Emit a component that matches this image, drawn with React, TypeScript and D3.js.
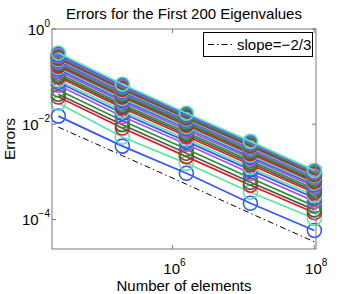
import React, { useEffect, useRef } from 'react';
import * as d3 from 'd3';

// number of elements for each refinement level
const nElements = [24576, 196608, 1572864, 12582912, 100663296];

// colour cycle used for the eigenvalue curves
const seriesColors = ['#3358ff', '#58e6a6', '#e61a1e', '#555555', '#229a22', '#a450f0'];

// errors of the eigenvalues (bottom curve first), one row per curve
const eigenErrors = [
  [1.48e-2, 3.47e-3, 9.33e-4, 2.19e-4, 5.89e-5],
  [2.75e-2, 5.37e-3, 1.51e-3, 3.72e-4, 1.05e-4],
  [3.72e-2, 8.32e-3, 2.09e-3, 5.25e-4, 1.38e-4],
  [4.27e-2, 9.77e-3, 2.46e-3, 6.03e-4, 1.59e-4],
  [5.25e-2, 1.18e-2, 3.02e-3, 7.41e-4, 1.91e-4],
  [6.61e-2, 1.45e-2, 3.80e-3, 9.33e-4, 2.40e-4],
  [7.59e-2, 1.70e-2, 4.37e-3, 1.10e-3, 2.82e-4],
  [8.51e-2, 1.91e-2, 4.90e-3, 1.23e-3, 3.16e-4],
  [9.77e-2, 2.19e-2, 5.62e-3, 1.41e-3, 3.63e-4],
  [1.07e-1, 2.40e-2, 6.17e-3, 1.55e-3, 3.98e-4],
  [1.18e-1, 2.63e-2, 6.76e-3, 1.70e-3, 4.37e-4],
  [1.32e-1, 2.95e-2, 7.59e-3, 1.91e-3, 4.90e-4],
  [1.45e-1, 3.24e-2, 8.32e-3, 2.09e-3, 5.37e-4],
  [1.55e-1, 3.47e-2, 8.91e-3, 2.24e-3, 5.75e-4],
  [1.66e-1, 3.72e-2, 9.55e-3, 2.40e-3, 6.17e-4],
  [1.78e-1, 3.98e-2, 1.02e-2, 2.57e-3, 6.61e-4],
  [1.91e-1, 4.27e-2, 1.10e-2, 2.75e-3, 7.08e-4],
  [2.04e-1, 4.57e-2, 1.18e-2, 2.95e-3, 7.59e-4],
  [2.19e-1, 4.90e-2, 1.23e-2, 3.16e-3, 8.13e-4],
  [2.29e-1, 5.13e-2, 1.29e-2, 3.31e-3, 8.32e-4],
  [2.40e-1, 5.37e-2, 1.35e-2, 3.47e-3, 8.71e-4],
  [2.51e-1, 5.62e-2, 1.41e-2, 3.63e-3, 9.12e-4],
  [2.63e-1, 5.89e-2, 1.48e-2, 3.80e-3, 9.55e-4],
  [2.75e-1, 6.17e-2, 1.55e-2, 3.98e-3, 1.00e-3],
  [2.95e-1, 6.61e-2, 1.62e-2, 4.17e-3, 1.05e-3],
  [3.13e-1, 6.92e-2, 1.70e-2, 4.37e-3, 1.07e-3],
];

// reference line with slope -2/3
const slopeValues = [8.71e-3, 2.19e-3, 5.50e-4, 1.35e-4, 3.39e-5];

const xTicks = [1e6, 1e8];
const xTickExps = ['6', '8'];
const yTicks = [1, 1e-2, 1e-4];
const yTickExps = ['0', '\u22122', '\u22124'];

const FONT = '"Liberation Sans", Arial, sans-serif';

const ErrorChart = () => {
  const svgRef = useRef<SVGSVGElement>(null);

  useEffect(() => {
    const svg = d3.select(svgRef.current);
    svg.selectAll('*').remove();

    const left = 52;
    const right = 316;
    const top = 29;
    const bottom = 249;
    const axisColor = '#7a7a7a';

    const x = d3.scaleLog().domain([2e4, 1.06e8]).range([left, right]);
    const y = d3.scaleLog().domain([2.4e-5, 1]).range([bottom, top]);

    const line = d3
      .line<number>()
      .x((d, i) => x(nElements[i]))
      .y((d) => y(d));

    // curves, each with its circle markers
    eigenErrors.forEach((row, k) => {
      const color = seriesColors[k % seriesColors.length];
      const g = svg.append('g');
      g.append('path')
        .attr('d', line(row))
        .attr('fill', 'none')
        .attr('stroke', color)
        .attr('stroke-width', 1.7);
      g.selectAll('circle')
        .data(row)
        .enter()
        .append('circle')
        .attr('cx', (d, i) => x(nElements[i]))
        .attr('cy', (d) => y(d))
        .attr('r', 7)
        .attr('fill', 'none')
        .attr('stroke', color)
        .attr('stroke-width', 1.6);
    });

    svg
      .append('path')
      .attr('d', line(slopeValues))
      .attr('fill', 'none')
      .attr('stroke', '#000')
      .attr('stroke-width', 1)
      .attr('stroke-dasharray', '6,3,1.5,3');

    // axes box
    svg
      .append('rect')
      .attr('x', left)
      .attr('y', top)
      .attr('width', right - left)
      .attr('height', bottom - top)
      .attr('fill', 'none')
      .attr('stroke', axisColor)
      .attr('stroke-width', 1);

    const tickLen = 4;
    xTicks.forEach((t, i) => {
      const px = x(t);
      svg.append('line').attr('x1', px).attr('x2', px).attr('y1', bottom).attr('y2', bottom - tickLen).attr('stroke', axisColor);
      svg.append('line').attr('x1', px).attr('x2', px).attr('y1', top).attr('y2', top + tickLen).attr('stroke', axisColor);
      const txt = svg
        .append('text')
        .attr('x', px + 2)
        .attr('y', 274)
        .attr('text-anchor', 'middle')
        .attr('font-family', FONT)
        .attr('font-size', 15);
      txt.append('tspan').text('10');
      txt.append('tspan').attr('dy', -8).attr('font-size', 10).text(xTickExps[i]);
    });

    yTicks.forEach((t, i) => {
      const py = y(t);
      svg.append('line').attr('x1', left).attr('x2', left + tickLen).attr('y1', py).attr('y2', py).attr('stroke', axisColor);
      svg.append('line').attr('x1', right).attr('x2', right - tickLen).attr('y1', py).attr('y2', py).attr('stroke', axisColor);
      const txt = svg
        .append('text')
        .attr('x', 50)
        .attr('y', py + 6)
        .attr('text-anchor', 'end')
        .attr('font-family', FONT)
        .attr('font-size', 15);
      txt.append('tspan').text('10');
      txt.append('tspan').attr('dy', -8).attr('font-size', 10).text(yTickExps[i]);
    });

    svg
      .append('text')
      .attr('x', 184)
      .attr('y', 19)
      .attr('text-anchor', 'middle')
      .attr('font-family', FONT)
      .attr('font-size', 15)
      .text('Errors for the First 200 Eigenvalues');

    svg
      .append('text')
      .attr('x', 184)
      .attr('y', 291)
      .attr('text-anchor', 'middle')
      .attr('font-family', FONT)
      .attr('font-size', 15)
      .text('Number of elements');

    svg
      .append('text')
      .attr('transform', 'translate(15,139) rotate(-90)')
      .attr('text-anchor', 'middle')
      .attr('font-family', FONT)
      .attr('font-size', 15.5)
      .text('Errors');

    // legend
    const legend = svg.append('g');
    legend
      .append('rect')
      .attr('x', 203.5)
      .attr('y', 32.5)
      .attr('width', 109)
      .attr('height', 24)
      .attr('fill', '#fff')
      .attr('stroke', '#000')
      .attr('stroke-width', 1);
    legend
      .append('line')
      .attr('x1', 208)
      .attr('x2', 233)
      .attr('y1', 44.5)
      .attr('y2', 44.5)
      .attr('stroke', '#000')
      .attr('stroke-width', 1)
      .attr('stroke-dasharray', '6,3,1.5,3');
    legend
      .append('text')
      .attr('x', 237)
      .attr('y', 50)
      .attr('font-family', FONT)
      .attr('font-size', 15)
      .text('slope=\u22122/3');
  }, []);

  return (
    <svg
      ref={svgRef}
      width={349}
      height={294}
      style={{ position: 'absolute', left: 0, top: 0, background: '#fff' }}
    />
  );
};

export default function App() {
  return <ErrorChart />;
}
